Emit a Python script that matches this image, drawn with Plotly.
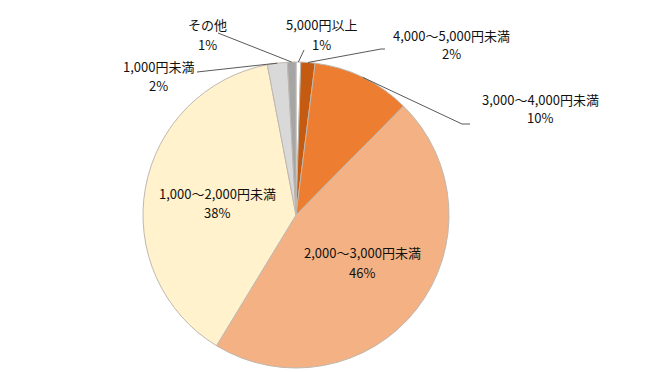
import math
import plotly.graph_objects as go

# ---- data ----
categories = ["5,000円以上", "4,000～5,000円未満", "3,000～4,000円未満",
              "2,000～3,000円未満", "1,000～2,000円未満", "1,000円未満", "その他"]
shares = [0.5, 1.5, 10.4, 46.3, 38.3, 2.1, 0.9]          # slice sizes
pct_labels = ["1%", "2%", "10%", "46%", "38%", "2%", "1%"]  # printed percentages
colors = ["#FFFFFF", "#C55A11", "#ED7D31", "#F4B183", "#FFF2CC", "#D9D9D9", "#A5A5A5"]

# ---- layout geometry (pixels) ----
W, H = 650, 372
CX, CY, R = 296, 215, 153

def px(x):
    return x / W

def py(y):
    return 1 - y / H

# label centres (name line) in pixels, and leader-line end points
label_pos = [(321, 25), (451, 35), (540, 99), (362, 253), (217, 193), (158, 66), (207, 25)]
leader_ends = {
    0: [(304, 50)],
    1: [(381, 49), (385, 49)],
    2: [(462, 124), (470, 124)],
    5: [(197, 72)],
    6: [(218, 33)],
}

fig = go.Figure(go.Pie(
    labels=categories,
    values=shares,
    sort=False,
    direction="clockwise",
    rotation=0,
    marker=dict(colors=colors, line=dict(color="#BFB8B0", width=1)),
    textinfo="none",
    hoverinfo="label+percent",
    showlegend=False,
    domain=dict(x=[px(CX - R), px(CX + R)], y=[py(CY + R), py(CY - R)]),
))

font = dict(family="Noto Sans CJK JP, Noto Sans, sans-serif", size=13, color="#111111")
annotations = []
for name, pct, (lx, ly) in zip(categories, pct_labels, label_pos):
    annotations.append(dict(x=px(lx), y=py(ly), xref="paper", yref="paper", text=name,
                            showarrow=False, font=font, xanchor="center", yanchor="middle"))
    annotations.append(dict(x=px(lx), y=py(ly + 19), xref="paper", yref="paper", text=pct,
                            showarrow=False, font=font, xanchor="center", yanchor="middle"))

# leader lines from slice mid-angle edge points
total = sum(shares)
cum = 0
mids = []
for v in shares:
    mids.append((cum + v / 2) / total * 2 * math.pi)
    cum += v

shapes = []
for i, pts in leader_ends.items():
    a = mids[i]
    ex = CX + R * math.sin(a)
    ey = CY - R * math.cos(a)
    seq = [(ex, ey)] + pts
    d = "M " + " L ".join(f"{px(x)} {py(y)}" for x, y in seq)
    shapes.append(dict(type="path", path=d, xref="paper", yref="paper",
                       line=dict(color="#595959", width=1)))

fig.update_layout(
    width=W, height=H,
    margin=dict(l=0, r=0, t=0, b=0),
    paper_bgcolor="white", plot_bgcolor="white",
    annotations=annotations, shapes=shapes,
)

fig.write_html("out.html", config={"displayModeBar": False},
               post_script="document.body.style.margin='0';")
